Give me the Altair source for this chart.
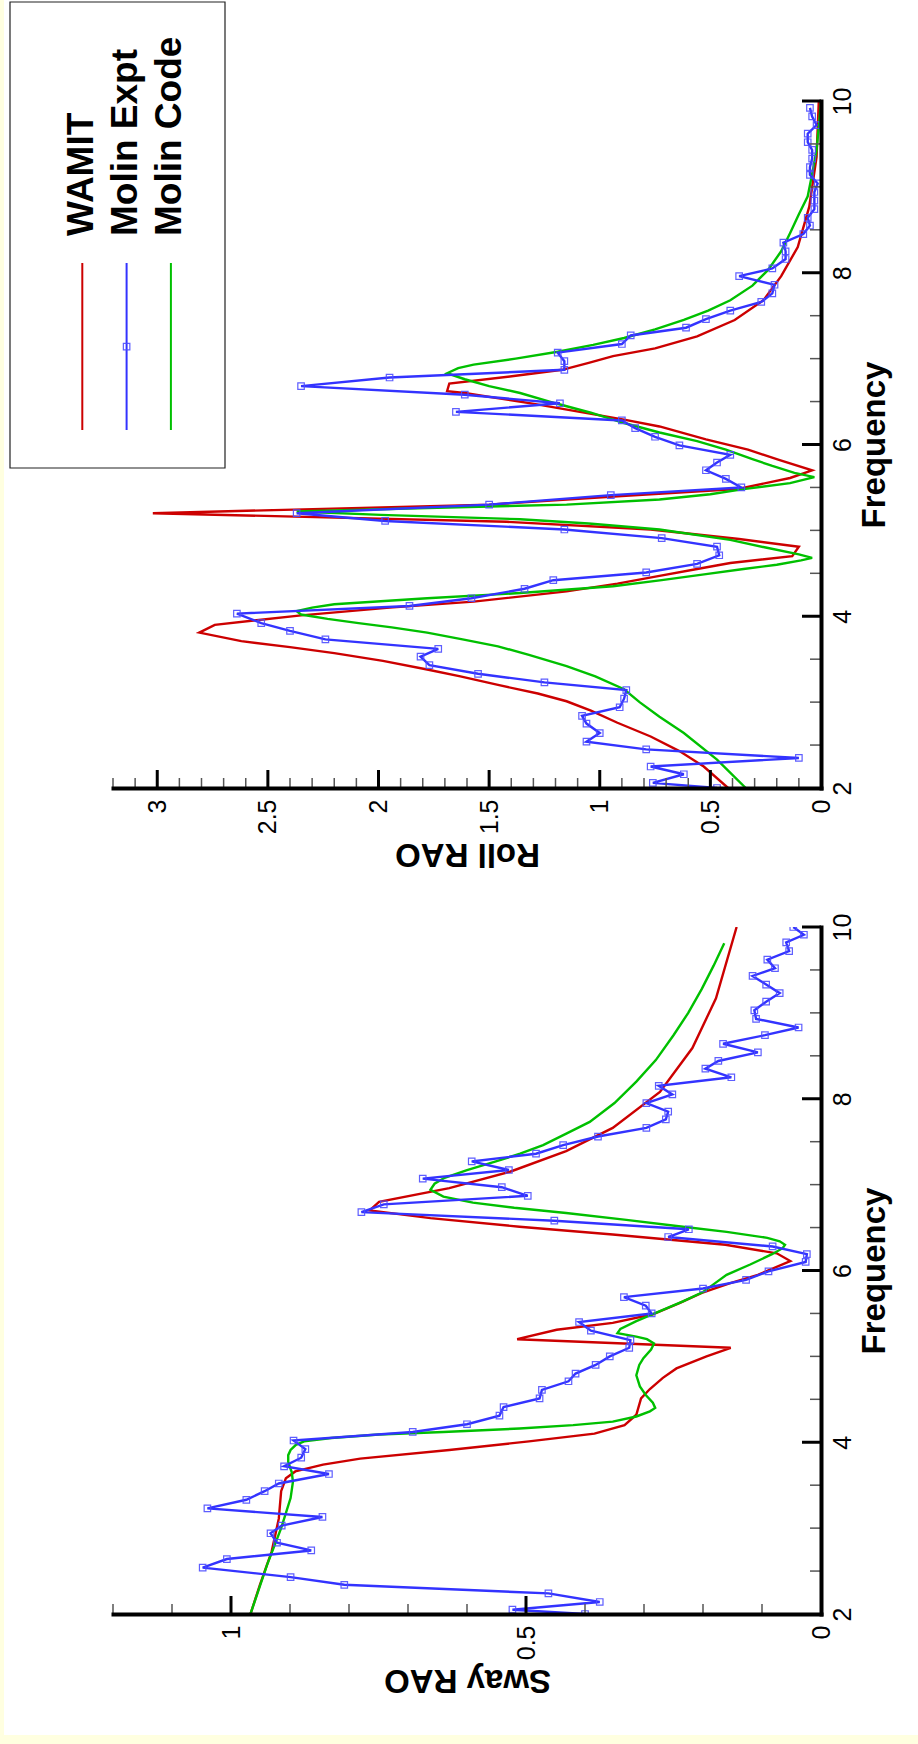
import altair as alt
import pandas as pd

FONT = "Liberation Sans, Arial, Helvetica, sans-serif"
SERIES = ["WAMIT", "Molin Expt", "Molin Code"]
COLORS = ["#CC0000", "#3333FF", "#00C000"]

# ---------------- Roll RAO panel ----------------
ROLL_WAMIT_F = [2.0, 2.25, 2.43, 2.6, 2.76, 2.9, 3.01, 3.1, 3.2, 3.3, 3.38, 3.48, 3.57, 3.64, 3.71, 3.81, 3.90,
                4.01, 4.10, 4.17, 4.29, 4.38, 4.47, 4.55, 4.62, 4.70, 4.81, 4.90, 5.01, 5.10, 5.20, 5.30, 5.40,
                5.48, 5.61, 5.70, 5.82, 5.94, 6.06, 6.21, 6.29, 6.38, 6.47, 6.60, 6.62, 6.71, 6.80, 6.87, 6.95,
                7.03, 7.12, 7.26, 7.45, 7.68, 7.96, 8.30, 8.77, 9.35, 10.0]
ROLL_WAMIT_R = [0.42, 0.53, 0.64, 0.77, 0.92, 1.04, 1.15, 1.28, 1.46, 1.63, 1.78, 1.98, 2.20, 2.40, 2.62, 2.81, 2.74,
                2.35, 1.95, 1.57, 1.15, 0.92, 0.73, 0.56, 0.41, 0.13, 0.10, 0.37, 0.77, 1.42, 3.02, 1.50, 0.90,
                0.38, 0.14, 0.04, 0.19, 0.33, 0.52, 0.73, 0.89, 1.09, 1.29, 1.61, 1.69, 1.68, 1.38, 1.17, 1.05,
                0.94, 0.75, 0.56, 0.39, 0.26, 0.18, 0.105, 0.053, 0.02, 0.01]

ROLL_CODE_F = [2.0, 2.33, 2.64, 2.83, 3.0, 3.15, 3.3, 3.42, 3.55, 3.65, 3.73, 3.81, 3.87, 3.92, 3.97, 4.02, 4.06,
               4.10, 4.14, 4.21, 4.27, 4.35, 4.42, 4.49, 4.55, 4.60, 4.65, 4.68, 4.72, 4.80, 4.89, 5.01, 5.08,
               5.13, 5.18, 5.22, 5.26, 5.30, 5.36, 5.42, 5.48, 5.55, 5.62, 5.67, 5.75, 5.83, 5.94, 6.04, 6.14,
               6.25, 6.37, 6.48, 6.60, 6.68, 6.76, 6.83, 6.89, 6.93, 7.00, 7.08, 7.16, 7.24, 7.34, 7.45, 7.56,
               7.68, 7.85, 8.03, 8.25, 8.46, 8.68, 8.89, 9.15, 9.43, 9.70, 10.0]
ROLL_CODE_R = [0.34, 0.47, 0.62, 0.73, 0.82, 0.89, 1.02, 1.15, 1.32, 1.46, 1.62, 1.78, 1.94, 2.09, 2.23, 2.35, 2.37,
               2.30, 2.20, 1.78, 1.36, 0.94, 0.72, 0.52, 0.35, 0.20, 0.09, 0.04, 0.10, 0.25, 0.41, 0.73, 1.05,
               1.36, 1.99, 2.37, 1.78, 1.15, 0.73, 0.50, 0.35, 0.14, 0.03, 0.12, 0.22, 0.31, 0.43, 0.56, 0.73,
               0.89, 1.04, 1.20, 1.36, 1.50, 1.61, 1.69, 1.64, 1.57, 1.38, 1.19, 1.03, 0.89, 0.75, 0.62, 0.51,
               0.41, 0.31, 0.24, 0.18, 0.14, 0.10, 0.06, 0.04, 0.02, 0.01, 0.0]

ROLL_EXPT_F = [2.00, 2.06, 2.16, 2.25, 2.35, 2.45, 2.54, 2.64, 2.75, 2.84, 2.94, 3.04, 3.14, 3.23, 3.33, 3.43,
               3.53, 3.62, 3.73, 3.83, 3.92, 4.03, 4.12, 4.21, 4.32, 4.42, 4.51, 4.61, 4.71, 4.81, 4.91, 5.01,
               5.11, 5.20, 5.30, 5.41, 5.50, 5.60, 5.70, 5.79, 5.88, 5.99, 6.09, 6.19, 6.28, 6.38, 6.48, 6.58,
               6.68, 6.78, 6.87, 6.97, 7.07, 7.17, 7.27, 7.36, 7.46, 7.56, 7.66, 7.76, 7.86, 7.96, 8.05, 8.16,
               8.25, 8.35, 8.45, 8.55, 8.64, 8.74, 8.84, 8.94, 9.04, 9.14, 9.23, 9.33, 9.43, 9.52, 9.62, 9.72,
               9.82, 9.92]
ROLL_EXPT_R = [0.47, 0.76, 0.62, 0.77, 0.10, 0.79, 1.06, 1.00, 1.06, 1.08, 0.91, 0.89, 0.88, 1.25, 1.55, 1.77,
               1.81, 1.73, 2.24, 2.40, 2.53, 2.64, 1.86, 1.58, 1.34, 1.21, 0.79, 0.56, 0.46, 0.47, 0.72, 1.16,
               1.97, 2.37, 1.50, 0.95, 0.36, 0.43, 0.52, 0.47, 0.41, 0.64, 0.75, 0.84, 0.90, 1.65, 1.18, 1.61,
               2.35, 1.95, 1.16, 1.16, 1.19, 0.90, 0.86, 0.61, 0.52, 0.41, 0.27, 0.22, 0.21, 0.37, 0.22, 0.16,
               0.16, 0.17, 0.08, 0.05, 0.06, 0.03, 0.03, 0.03, 0.015, 0.05, 0.05, 0.04, 0.04, 0.06, 0.06, 0.02,
               0.04, 0.05]

# ---------------- Sway RAO panel ----------------
SWAY_WAMIT_F = [2.0, 2.34, 2.73, 3.11, 3.43, 3.58, 3.66, 3.74, 3.81, 3.91, 4.01, 4.10, 4.20, 4.32, 4.51, 4.62,
                4.75, 4.86, 5.00, 5.10, 5.20, 5.31, 5.39, 5.49, 5.62, 5.74, 5.85, 5.95, 6.11, 6.20, 6.30, 6.42,
                6.51, 6.61, 6.70, 6.80, 6.96, 7.15, 7.39, 7.66, 8.08, 8.59, 9.17, 10.0]
SWAY_WAMIT_S = [0.967, 0.951, 0.931, 0.919, 0.915, 0.907, 0.891, 0.844, 0.781, 0.630, 0.495, 0.384, 0.333, 0.313,
                0.305, 0.290, 0.268, 0.245, 0.194, 0.153, 0.515, 0.448, 0.353, 0.285, 0.240, 0.202, 0.155, 0.107,
                0.052, 0.075, 0.162, 0.353, 0.511, 0.662, 0.765, 0.749, 0.630, 0.527, 0.432, 0.353, 0.273, 0.218,
                0.178, 0.143]

SWAY_CODE_F = [2.0, 2.57, 3.0, 3.35, 3.54, 3.65, 3.77, 3.85, 3.91, 3.97, 4.01, 4.05, 4.09, 4.12, 4.16, 4.20, 4.24,
               4.30, 4.36, 4.40, 4.46, 4.55, 4.65, 4.78, 4.90, 4.98, 5.08, 5.15, 5.20, 5.23, 5.27, 5.32, 5.41,
               5.52, 5.64, 5.75, 5.85, 5.95, 6.07, 6.19, 6.26, 6.30, 6.34, 6.38, 6.45, 6.51, 6.59, 6.67, 6.73,
               6.79, 6.86, 6.94, 7.01, 7.08, 7.17, 7.27, 7.36, 7.46, 7.60, 7.73, 7.95, 8.20, 8.45, 8.74, 9.00,
               9.28, 9.55, 9.81]
SWAY_CODE_S = [0.967, 0.939, 0.915, 0.899, 0.895, 0.897, 0.903, 0.903, 0.899, 0.890, 0.876, 0.830, 0.749, 0.640,
               0.511, 0.420, 0.353, 0.313, 0.290, 0.281, 0.285, 0.297, 0.307, 0.313, 0.308, 0.301, 0.288, 0.283,
               0.295, 0.313, 0.345, 0.340, 0.313, 0.275, 0.234, 0.200, 0.180, 0.160, 0.120, 0.083, 0.065, 0.061,
               0.070, 0.091, 0.160, 0.234, 0.330, 0.432, 0.520, 0.590, 0.640, 0.662, 0.655, 0.638, 0.600, 0.551,
               0.510, 0.471, 0.430, 0.392, 0.350, 0.313, 0.280, 0.250, 0.225, 0.202, 0.182, 0.164]

SWAY_EXPT_F = [2.00, 2.05, 2.14, 2.24, 2.34, 2.43, 2.54, 2.64, 2.74, 2.83, 2.94, 3.03, 3.13, 3.23, 3.33, 3.43,
               3.52, 3.63, 3.72, 3.82, 3.92, 4.02, 4.12, 4.21, 4.31, 4.41, 4.51, 4.61, 4.71, 4.80, 4.90, 5.00,
               5.10, 5.19, 5.30, 5.40, 5.50, 5.59, 5.69, 5.79, 5.89, 5.99, 6.10, 6.19, 6.28, 6.39, 6.48, 6.58,
               6.68, 6.77, 6.87, 6.97, 7.07, 7.17, 7.27, 7.36, 7.46, 7.56, 7.66, 7.76, 7.85, 7.95, 8.05, 8.15,
               8.25, 8.35, 8.44, 8.54, 8.64, 8.74, 8.83, 8.93, 9.03, 9.13, 9.23, 9.33, 9.43, 9.52, 9.62, 9.72,
               9.82, 9.91, 10.0]
SWAY_EXPT_S = [0.400, 0.523, 0.375, 0.462, 0.808, 0.899, 1.048, 1.007, 0.864, 0.922, 0.933, 0.914, 0.845, 1.040,
               0.974, 0.943, 0.919, 0.834, 0.910, 0.881, 0.874, 0.894, 0.692, 0.600, 0.545, 0.538, 0.477, 0.473,
               0.428, 0.416, 0.382, 0.358, 0.325, 0.323, 0.390, 0.410, 0.287, 0.297, 0.334, 0.200, 0.127, 0.089,
               0.026, 0.024, 0.082, 0.259, 0.224, 0.452, 0.779, 0.741, 0.497, 0.541, 0.675, 0.529, 0.592, 0.483,
               0.437, 0.378, 0.296, 0.263, 0.259, 0.296, 0.252, 0.275, 0.152, 0.196, 0.174, 0.107, 0.166, 0.095,
               0.038, 0.110, 0.113, 0.093, 0.070, 0.093, 0.116, 0.078, 0.091, 0.054, 0.059, 0.029, 0.047]

# ---------------- axes / ticks ----------------
FREQ_LABELS = [2, 4, 6, 8, 10]
FREQ_MAJOR = [4, 6, 8, 10]
FREQ_MINOR = [2.5, 3, 3.5, 4.5, 5, 5.5, 6.5, 7, 7.5, 8.5, 9, 9.5]
ROLL_LABELS = [0, 0.5, 1, 1.5, 2, 2.5, 3]
ROLL_MAJOR = [0.5, 1, 1.5, 2, 2.5, 3]
ROLL_MINOR = [round(i / 10, 1) for i in range(1, 33) if i % 5 != 0]
SWAY_LABELS = [0, 0.5, 1]
SWAY_MAJOR = [0.5, 1]
SWAY_MINOR = [round(i / 10, 1) for i in range(1, 13) if i % 5 != 0]

W, H = 708, 687
ONE = pd.DataFrame({"d": [0]})


def lines_df(fw, rw, fc, rc):
    return pd.concat([
        pd.DataFrame({"freq": fw, "rao": rw, "series": SERIES[0]}),
        pd.DataFrame({"freq": fc, "rao": rc, "series": SERIES[2]}),
    ])


def panel(dfl, dfe, xmax, labels, major, minor, title, bg_y, legend):
    xs = alt.Scale(domain=[0, xmax], reverse=True, nice=False, zero=False)
    ys = alt.Scale(domain=[2, 10], nice=False, zero=False)
    xaxis = alt.Axis(values=labels, format=".2~f", ticks=False, tickSize=0, grid=False,
                     domainWidth=4, domainColor="black", domainCap="square",
                     labelAngle=270, labelAlign="right", labelBaseline="middle", labelPadding=11,
                     labelFont=FONT, labelFontSize=25, labelColor="black", labelFlush=False,
                     labelOverlap=False, title=title, titleFont=FONT, titleFontSize=33,
                     titleFontWeight="bold", titleColor="black", titleAngle=180, titleAlign="center",
                     titleBaseline="alphabetic", titleX=W / 2, titleY=55, zindex=1)
    yaxis = alt.Axis(orient="right", values=FREQ_LABELS, format=".2~f", ticks=False, tickSize=0, grid=False,
                     domainWidth=4, domainColor="black", domainCap="square",
                     labelAngle=270, labelAlign="center", labelBaseline="top", labelPadding=9,
                     labelFont=FONT, labelFontSize=25, labelColor="black", labelFlush=False,
                     labelOverlap=False, title="Frequency", titleFont=FONT, titleFontSize=33,
                     titleFontWeight="bold", titleColor="black", titleAngle=270, titleAlign="center",
                     titleBaseline="alphabetic", titleX=63, titleY=H / 2, zindex=1)

    def X(field):
        return alt.X(field, scale=xs, axis=xaxis)

    def Y(field):
        return alt.Y(field, scale=ys, axis=yaxis)

    layers = [
        alt.Chart(ONE).mark_rect(color="white").encode(
            x=alt.value(-109), x2=alt.value(805), y=alt.value(bg_y[0]), y2=alt.value(bg_y[1])),
    ]
    if legend:
        layers.append(alt.Chart(ONE).mark_rect(fill="white", stroke="#222222", strokeWidth=1.2).encode(
            x=alt.value(-103), x2=alt.value(112), y=alt.value(-99), y2=alt.value(367)))

    layers += [
        alt.Chart(dfl).mark_line(strokeWidth=2.4, clip=True).encode(
            x=X("rao:Q"),
            y=Y("freq:Q"),
            color=alt.Color("series:N", scale=alt.Scale(domain=SERIES, range=COLORS), legend=None),
            order=alt.Order("freq:Q"),
        ),
        alt.Chart(dfe).mark_line(strokeWidth=2.4, clip=True, color=COLORS[1]).encode(
            x=X("rao:Q"), y=Y("freq:Q"), order=alt.Order("freq:Q"),
        ),
        alt.Chart(dfe).mark_point(shape="square", size=42, filled=False, strokeWidth=1.2,
                                  color="#4D4DFF", opacity=0.9, clip=True).encode(
            x=X("rao:Q"), y=Y("freq:Q"),
        ),
        alt.Chart(pd.DataFrame({"rao": minor})).mark_rule(color="#555555", strokeWidth=1.5).encode(
            x=X("rao:Q"), y=alt.value(H), y2=alt.value(H - 10)),
        alt.Chart(pd.DataFrame({"rao": major})).mark_rule(color="black", strokeWidth=3).encode(
            x=X("rao:Q"), y=alt.value(H), y2=alt.value(H - 18)),
        alt.Chart(pd.DataFrame({"freq": FREQ_MINOR})).mark_rule(color="#555555", strokeWidth=1.5).encode(
            y=Y("freq:Q"), x=alt.value(W), x2=alt.value(W - 11)),
        alt.Chart(pd.DataFrame({"freq": FREQ_MAJOR})).mark_rule(color="black", strokeWidth=3).encode(
            y=Y("freq:Q"), x=alt.value(W), x2=alt.value(W - 19)),
    ]

    if legend:
        lx0, dx = -30.7, 44.3
        for i, name in enumerate(SERIES):
            lx = lx0 + i * dx
            layers.append(alt.Chart(ONE).mark_rule(color=COLORS[i], strokeWidth=2).encode(
                x=alt.value(lx), y=alt.value(162), y2=alt.value(329)))
            layers.append(alt.Chart(ONE).mark_text(
                angle=270, align="left", baseline="alphabetic", font=FONT, fontSize=37,
                fontWeight="bold", color="black").encode(
                x=alt.value(lx + 10.5), y=alt.value(135), text=alt.value(name)))
        layers.append(alt.Chart(ONE).mark_point(shape="square", size=42, filled=False, strokeWidth=1.2,
                                                color="#4D4DFF", opacity=0.9).encode(
            x=alt.value(lx0 + dx), y=alt.value(245.7)))

    return alt.layer(*layers).properties(width=W, height=H)


roll_lines = lines_df(ROLL_WAMIT_F, ROLL_WAMIT_R, ROLL_CODE_F, ROLL_CODE_R)
roll_expt = pd.DataFrame({"freq": ROLL_EXPT_F, "rao": ROLL_EXPT_R})
sway_lines = lines_df(SWAY_WAMIT_F, SWAY_WAMIT_S, SWAY_CODE_F, SWAY_CODE_S)
sway_expt = pd.DataFrame({"freq": SWAY_EXPT_F, "rao": SWAY_EXPT_S})

top = panel(roll_lines, roll_expt, 3.2, ROLL_LABELS, ROLL_MAJOR, ROLL_MINOR, "Roll RAO", (-101, 789), True)
bottom = panel(sway_lines, sway_expt, 1.2, SWAY_LABELS, SWAY_MAJOR, SWAY_MINOR, "Sway RAO", (-37, 808), False)

chart = alt.vconcat(top, bottom, spacing=139, bounds="flush").properties(
    background="#FFFFE0",
    padding={"left": 4, "top": 0, "right": 0, "bottom": 9},
).configure_view(strokeWidth=0)

chart.save("out.html", embed_options={"renderer": "svg", "actions": False})
